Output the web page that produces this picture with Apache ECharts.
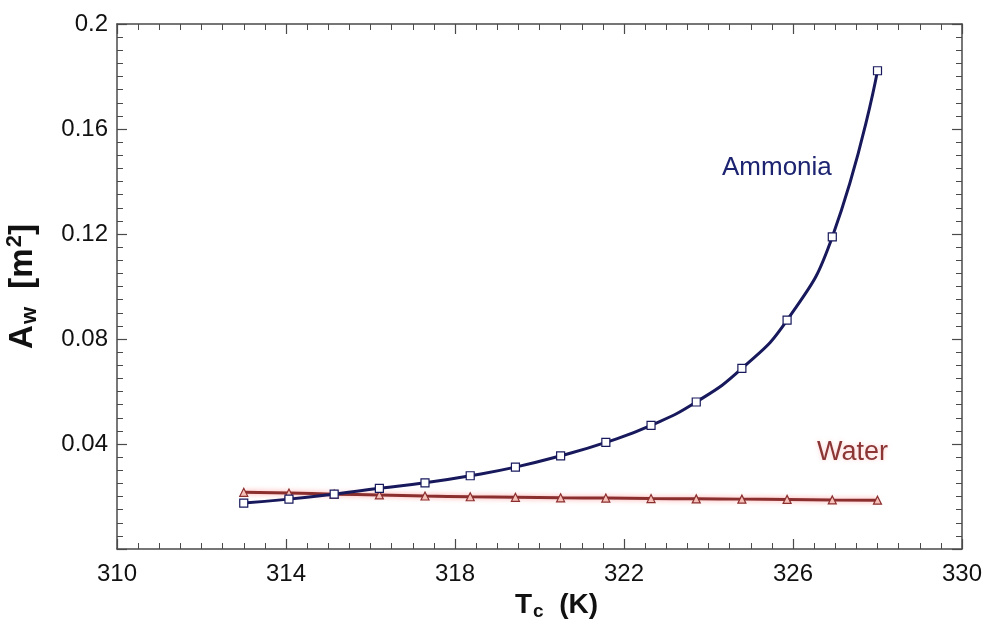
<!DOCTYPE html>
<html>
<head>
<meta charset="utf-8">
<script src="https://cdn.jsdelivr.net/npm/echarts@6/dist/echarts.min.js"></script>
<style>html,body{margin:0;padding:0;background:#fff}#c{width:987px;height:621px}</style>
</head>
<body>
<div id="c"></div>
<script>
const tempC = [313, 314.07, 315.14, 316.21, 317.29, 318.36, 319.43, 320.5, 321.57, 322.64, 323.71, 324.79, 325.86, 326.93, 328];
const ammonia = [0.0175, 0.0190, 0.0209, 0.0231, 0.0252, 0.0279, 0.0312, 0.0355, 0.0406, 0.0471, 0.0560, 0.0688, 0.0872, 0.1189, 0.1822];
const water = [0.0216, 0.0213, 0.0209, 0.0206, 0.0202, 0.0199, 0.0197, 0.0195, 0.0194, 0.0192, 0.0191, 0.0190, 0.0189, 0.0187, 0.0186];
const xTicks = [310, 314, 318, 322, 326, 330];
const yTicks = [0.04, 0.08, 0.12, 0.16, 0.2];

const chart = echarts.init(document.getElementById('c'), null, {renderer: 'canvas'});
const axisColor = '#4a4a4a';
const font = 'Liberation Sans, Arial, sans-serif';

function baseX(pos, showLabel) {
  return {
    type: 'value', position: pos, min: xTicks[0], max: xTicks[xTicks.length - 1], interval: 4,
    axisLine: {show: true, onZero: false, lineStyle: {color: axisColor, width: 1.5}},
    axisTick: {show: true, inside: true, length: 10, lineStyle: {color: axisColor, width: 1.2}},
    minorTick: {show: true, splitNumber: 8, length: 6, lineStyle: {color: axisColor, width: 1}},
    splitLine: {show: false},
    axisLabel: {show: showLabel, color: '#111', fontSize: 24, fontFamily: font, margin: 13,
      formatter: v => xTicks.indexOf(v) >= 0 ? String(v) : ''}
  };
}
function baseY(pos, showLabel) {
  return {
    type: 'value', position: pos, min: 0, max: 0.2, interval: 0.04,
    axisLine: {show: true, onZero: false, lineStyle: {color: axisColor, width: 1.5}},
    axisTick: {show: true, inside: true, length: 10, lineStyle: {color: axisColor, width: 1.2}},
    minorTick: {show: true, splitNumber: 8, length: 6, lineStyle: {color: axisColor, width: 1}},
    splitLine: {show: false},
    axisLabel: {show: showLabel, color: '#111', fontSize: 24, fontFamily: font, margin: 9,
      formatter: v => {
        const r = parseFloat(v.toFixed(3));
        return yTicks.some(t => Math.abs(t - r) < 1e-9) ? String(r) : '';
      }}
  };
}

const xMain = baseX('bottom', true);
xMain.name = '{t|T}{s|c}{t|  (K)}';
xMain.nameLocation = 'middle';
xMain.nameGap = 37;
xMain.nameTextStyle = {
  padding: [0, 0, 0, 34],
  rich: {
    t: {fontSize: 28, fontWeight: 'bold', fontFamily: font, color: '#111'},
    s: {fontSize: 19, fontWeight: 'bold', fontFamily: font, color: '#111', padding: [14, 0, 0, 1]}
  }
};
const yMain = baseY('left', true);
yMain.name = '{t|A}{s|w}{t|  [m}{p|2}{t|]}';
yMain.nameLocation = 'middle';
yMain.nameRotate = 90;
yMain.nameGap = 76;
yMain.nameTextStyle = {
  rich: {
    t: {fontSize: 33, fontWeight: 'bold', fontFamily: font, color: '#111'},
    s: {fontSize: 22, fontWeight: 'bold', fontFamily: font, color: '#111', padding: [15, 0, 0, 1]},
    p: {fontSize: 22, fontWeight: 'bold', fontFamily: font, color: '#111', padding: [0, 0, 15, 1]}
  }
};

chart.setOption({
  backgroundColor: '#fff',
  animation: false,
  grid: {left: 117, right: 25, top: 24, bottom: 72, containLabel: false, outerBoundsMode: 'none'},
  xAxis: [xMain, baseX('top', false)],
  yAxis: [yMain, baseY('right', false)],
  graphic: [
    {type: 'text', left: 722, top: 155, style: {text: 'Ammonia', fontSize: 26, fontFamily: font, fill: '#1c2370'}},
    {type: 'text', left: 817, top: 439, style: {text: 'Water', fontSize: 27, fontFamily: font, fill: '#8b3535',
      textShadowColor: 'rgba(255,170,170,0.6)', textShadowBlur: 4}}
  ],
  series: [
    {
      name: 'Water', type: 'line', xAxisIndex: 0, yAxisIndex: 0, smooth: true,
      data: tempC.map((t, i) => [t, water[i]]),
      symbol: 'triangle', symbolSize: 8,
      lineStyle: {color: '#8b2e2e', width: 3, shadowColor: 'rgba(255,120,120,0.7)', shadowBlur: 5},
      itemStyle: {color: '#f5c0b8', borderColor: '#8b2e2e', borderWidth: 1.2},
      z: 2
    },
    {
      name: 'Ammonia', type: 'line', xAxisIndex: 0, yAxisIndex: 0, smooth: true,
      data: tempC.map((t, i) => [t, ammonia[i]]),
      symbol: 'rect', symbolSize: 8,
      lineStyle: {color: '#17195c', width: 3},
      itemStyle: {color: '#ffffff', borderColor: '#17195c', borderWidth: 1.2},
      z: 3
    }
  ]
});
</script>
</body>
</html>
